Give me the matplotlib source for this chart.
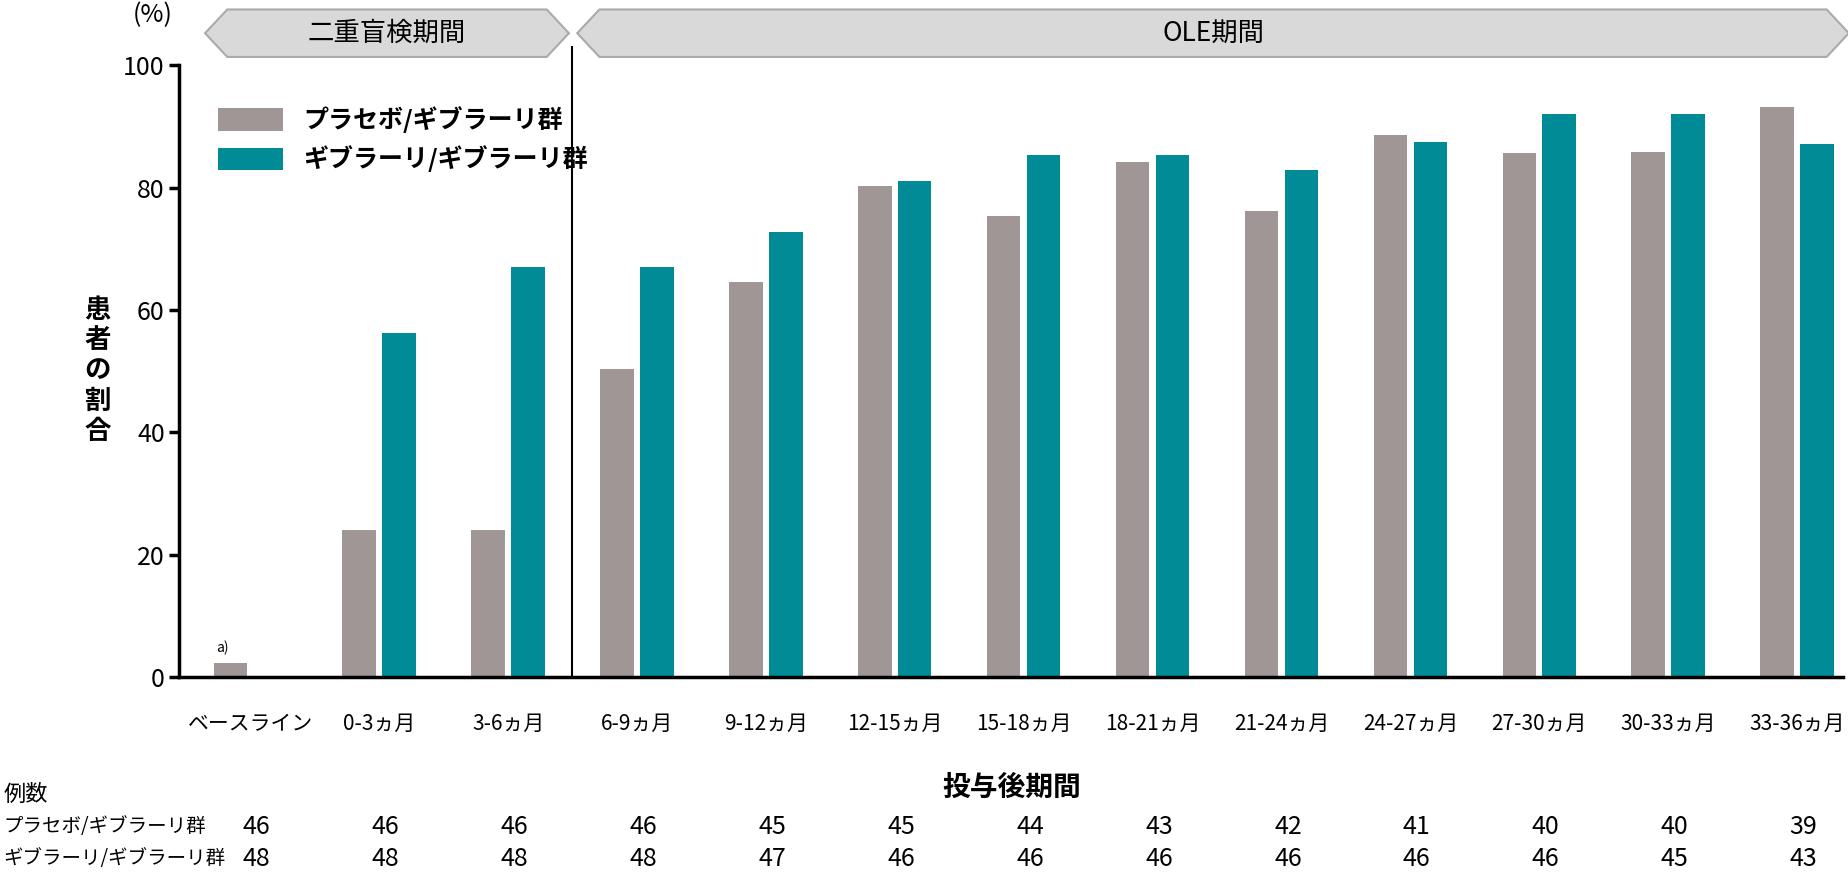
import matplotlib
matplotlib.use("Agg")
import matplotlib.pyplot as plt
from matplotlib.patches import Polygon
import matplotlib.transforms as mtrans

plt.rcParams['font.family'] = ['Noto Sans CJK JP', 'DejaVu Sans']

categories = ["ベースライン", "0-3ヵ月", "3-6ヵ月", "6-9ヵ月", "9-12ヵ月", "12-15ヵ月", "15-18ヵ月",
              "18-21ヵ月", "21-24ヵ月", "24-27ヵ月", "27-30ヵ月", "30-33ヵ月", "33-36ヵ月"]
placebo = [2.3, 24, 24, 50.3, 64.6, 80.2, 75.4, 84.2, 76.2, 88.6, 85.6, 85.8, 93.2]
givo = [None, 56.3, 67, 67, 72.8, 81.1, 85.3, 85.3, 82.8, 87.4, 92.1, 92.0, 87.1]
n_placebo = [46, 46, 46, 46, 45, 45, 44, 43, 42, 41, 40, 40, 39]
n_givo = [48, 48, 48, 48, 47, 46, 46, 46, 46, 46, 46, 45, 43]
yticks = [0, 20, 40, 60, 80, 100]

GRAY = "#A09696"
TEAL = "#008B96"

W, H = 1849, 893
fig = plt.figure(figsize=(W/100, H/100), dpi=100)
ax = fig.add_axes([0.097, 0.242, 0.9, 0.685])

x = list(range(len(categories)))
w = 0.26
ax.bar([i - 0.155 for i in x], placebo, width=w, color=GRAY, label="プラセボ/ギブラーリ群")
gx = [i + 0.155 for i, v in zip(x, givo) if v is not None]
gv = [v for v in givo if v is not None]
ax.bar(gx, gv, width=w, color=TEAL, label="ギブラーリ/ギブラーリ群")

ax.set_xlim(-0.55, 12.36)
ax.set_ylim(0, 100)
ax.set_yticks(yticks)
ax.tick_params(axis='y', labelsize=18, width=2.5, length=7)
ax.set_xticks(x)
ax.set_xticklabels(categories, fontsize=15)
ax.tick_params(axis='x', length=0, pad=26)
for s in ['top', 'right']:
    ax.spines[s].set_visible(False)
ax.spines['left'].set_linewidth(2.5)
ax.spines['bottom'].set_linewidth(2.5)
ax.axvline(2.5, ymin=0, ymax=1.03, color='black', lw=1.5, clip_on=False)
ax.text(-0.22, 3.5, "a)", fontsize=10, ha='center', va='bottom')

ax.text(-0.049, 0.5, "\n".join("患者の割合"), transform=ax.transAxes, fontsize=19,
        fontweight='bold', ha='center', va='center', linespacing=1.15)
ax.text(-0.016, 1.06, "(%)", transform=ax.transAxes, fontsize=18, ha='center', va='bottom')
ax.set_xlabel("投与後期間", fontsize=20, fontweight='bold', labelpad=28)

leg = ax.legend(loc='upper left', bbox_to_anchor=(0.01, 0.97), frameon=False,
                prop={'weight': 'bold', 'size': 18}, handlelength=2.6, handleheight=1.0)

def banner(x0, x1, y0, y1, label):
    tip = 0.012
    ym = (y0 + y1) / 2
    pts = [(x0, ym), (x0 + tip, y1), (x1 - tip, y1), (x1, ym), (x1 - tip, y0), (x0 + tip, y0)]
    fig.add_artist(Polygon(pts, closed=True, transform=fig.transFigure,
                           facecolor="#D9D9D9", edgecolor="#AAAAAA", lw=1.5))
    fig.text((x0 + x1) / 2, ym, label, ha='center', va='center', fontsize=19)

banner(173/1560, 480/1560, 1 - 48/753, 1 - 8/753, "二重盲検期間")
banner(487/1560, 1563/1560 - 0.002, 1 - 48/753, 1 - 8/753, "OLE期間")

trans = mtrans.blended_transform_factory(ax.transData, fig.transFigure)
fig.text(0.002, 1 - 670/753, "例数", fontsize=16, va='center')
fig.text(0.002, 1 - 697/753, "プラセボ/ギブラーリ群", fontsize=14, va='center')
fig.text(0.002, 1 - 724/753, "ギブラーリ/ギブラーリ群", fontsize=14, va='center')
for i in x:
    ax.text(i + 0.05, 1 - 697/753, str(n_placebo[i]), transform=trans, fontsize=18, ha='center', va='center')
    ax.text(i + 0.05, 1 - 724/753, str(n_givo[i]), transform=trans, fontsize=18, ha='center', va='center')

fig.savefig("out.png", dpi=100)
